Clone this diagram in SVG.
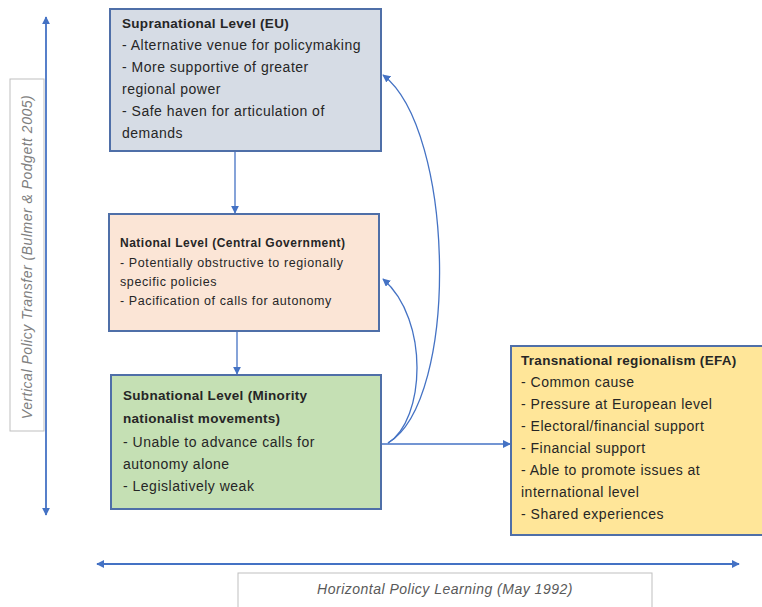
<svg xmlns="http://www.w3.org/2000/svg" width="762" height="607" viewBox="0 0 762 607">
<defs>
<marker id="ax" viewBox="0 0 10 10" refX="9" refY="5" markerWidth="8" markerHeight="8" orient="auto-start-reverse" markerUnits="userSpaceOnUse">
<path d="M0,0 L10,5 L0,10 z" fill="#4472C4"/>
</marker>
<marker id="ac" viewBox="0 0 10 10" refX="9" refY="5" markerWidth="8" markerHeight="8" orient="auto" markerUnits="userSpaceOnUse">
<path d="M0,0 L10,5 L0,10 z" fill="#4472C4"/>
</marker>
</defs>
<style>
.box{stroke:#4F6FA8;stroke-width:2}
.t{font-family:"Liberation Sans",Arial,sans-serif;font-size:14px;letter-spacing:0.5px;fill:#262626}
.b{font-weight:bold;font-size:13.5px;letter-spacing:0.3px}
.s{font-size:12.5px;letter-spacing:0.6px}
.sb{font-weight:bold;font-size:12px;letter-spacing:0.5px}
.lbl{font-family:"Liberation Sans",Arial,sans-serif;font-size:14px;letter-spacing:0.5px;font-style:italic;fill:#595959}
.lv{fill:#7F7F7F}
.con{fill:none;stroke:#4472C4;stroke-width:1.3}
.axis{fill:none;stroke:#4472C4;stroke-width:1.8}
.lb{fill:#ffffff;stroke:#BFBFBF;stroke-width:1}
</style>
<rect width="762" height="607" fill="#ffffff"/>

<g id="vertical-axis">
<rect class="lb" x="10" y="79" width="34" height="352"/>
<text class="lbl lv" transform="translate(32,257) rotate(-90)" text-anchor="middle">Vertical Policy Transfer (Bulmer &amp; Podgett 2005)</text>
<line class="axis" x1="46" y1="17" x2="46" y2="515" marker-start="url(#ax)" marker-end="url(#ax)"/>
</g>

<g id="horizontal-axis">
<line class="axis" x1="97" y1="564" x2="739" y2="564" marker-start="url(#ax)" marker-end="url(#ax)"/>
<rect class="lb" x="238" y="573" width="414" height="40"/>
<text class="lbl" x="445" y="594" text-anchor="middle">Horizontal Policy Learning (May 1992)</text>
</g>

<g id="eu">
<rect class="box" x="110" y="9" width="271" height="142" fill="#D6DCE5"/>
<text class="t b" x="122" y="28">Supranational Level (EU)</text>
<text class="t" x="122" y="50">- Alternative venue for policymaking</text>
<text class="t" x="122" y="72">- More supportive of greater</text>
<text class="t" x="122" y="94">regional power</text>
<text class="t" x="122" y="116">- Safe haven for articulation of</text>
<text class="t" x="122" y="138">demands</text>
</g>

<g id="national">
<rect class="box" x="109" y="214" width="270" height="117" fill="#FBE5D6"/>
<text class="t sb" x="120" y="247">National Level (Central Government)</text>
<text class="t s" x="120" y="267">- Potentially obstructive to regionally</text>
<text class="t s" x="120" y="286">specific policies</text>
<text class="t s" x="120" y="305">- Pacification of calls for autonomy</text>
</g>

<g id="subnational">
<rect class="box" x="111" y="375" width="270" height="134" fill="#C5E0B4"/>
<text class="t b" x="123" y="400">Subnational Level (Minority</text>
<text class="t b" x="123" y="423">nationalist movements)</text>
<text class="t" x="123" y="447">- Unable to advance calls for</text>
<text class="t" x="123" y="469">autonomy alone</text>
<text class="t" x="123" y="491">- Legislatively weak</text>
</g>

<g id="efa">
<rect class="box" x="511" y="346" width="260" height="189" fill="#FFE699"/>
<text class="t b" x="521" y="365">Transnational regionalism (EFA)</text>
<text class="t" x="521" y="387">- Common cause</text>
<text class="t" x="521" y="409">- Pressure at European level</text>
<text class="t" x="521" y="431">- Electoral/financial support</text>
<text class="t" x="521" y="453">- Financial support</text>
<text class="t" x="521" y="475">- Able to promote issues at</text>
<text class="t" x="521" y="497">international level</text>
<text class="t" x="521" y="519">- Shared experiences</text>
</g>

<g id="connectors">
<line class="con" x1="235" y1="152" x2="235" y2="213" marker-end="url(#ac)"/>
<line class="con" x1="237" y1="332" x2="237" y2="374" marker-end="url(#ac)"/>
<line class="con" x1="382" y1="444" x2="510" y2="444" marker-end="url(#ac)"/>
<path class="con" d="M388,443 C460,400 455,130 383,75" marker-end="url(#ac)"/>
<path class="con" d="M388,443 C425,420 430,320 383,279" marker-end="url(#ac)"/>
</g>
</svg>
